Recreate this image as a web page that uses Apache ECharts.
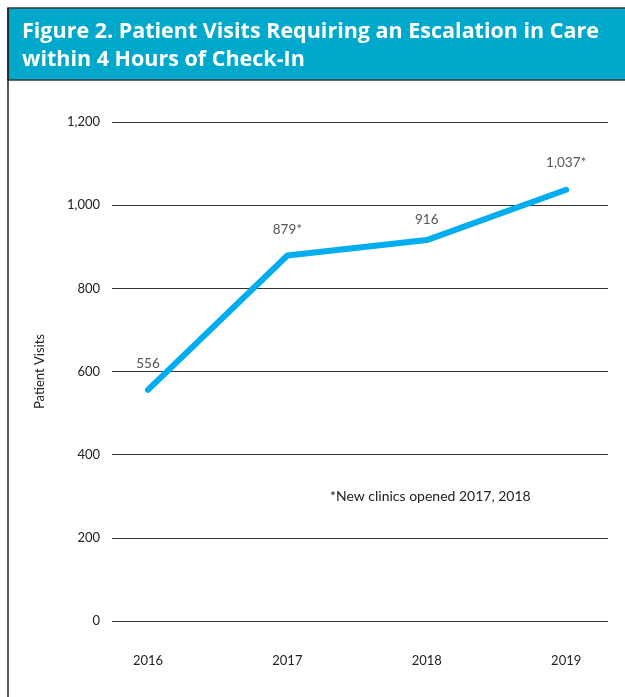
<!DOCTYPE html>
<html>
<head>
<meta charset="utf-8">
<script src="https://cdn.jsdelivr.net/npm/echarts@6/dist/echarts.min.js"></script>
<style>
  html, body { margin: 0; padding: 0; background: #fff; }
  #chart { width: 625px; height: 697px; }
</style>
</head>
<body>
<div id="chart"></div>
<script>
// Annual patient visits needing an escalation in care within 4 hours of check-in
const years = [2016, 2017, 2018, 2019];
const visits = [556, 879, 916, 1037];
const newClinicYear = [false, true, false, true];   // flagged with an asterisk
const yTicks = { min: 0, max: 1200, interval: 200 };

// gap between each point and its value label, in px
const labelGap = [17, 17, 11, 18];

const chart = echarts.init(document.getElementById('chart'));
const fontFamily = 'Lato, "Open Sans", sans-serif';

chart.setOption({
  backgroundColor: '#ffffff',
  animation: false,
  graphic: [
    // frame and header band
    { type: 'rect', shape: { x: 8, y: 8, width: 640, height: 72 }, style: { fill: '#00a9cc', stroke: '#2e3b3f', lineWidth: 1.5 }, z: 0 },
    { type: 'line', shape: { x1: 8, y1: 8, x2: 8, y2: 700 }, style: { stroke: '#222', lineWidth: 1.5 }, z: 1 },
    {
      type: 'text', left: 22, top: 18, z: 2,
      style: {
        text: 'Figure 2. Patient Visits Requiring an Escalation in Care\nwithin 4 Hours of Check-In',
        fill: '#ffffff', font: 'bold 21.5px "Open Sans", sans-serif', lineHeight: 28
      }
    },
    {
      type: 'text', left: 330, top: 489, z: 2,
      style: { text: '*New clinics opened 2017, 2018', fill: '#222', font: '14px ' + fontFamily }
    }
  ],
  grid: { left: 112, right: 17, top: 122, bottom: 76, containLabel: false },
  xAxis: {
    type: 'value',
    min: 2015.742,
    max: 2019.30,
    splitNumber: 4,
    axisLine: { show: false },
    axisTick: { show: false },
    splitLine: { show: false },
    axisLabel: {
      margin: 33,
      color: '#222',
      fontSize: 13,
      fontFamily: fontFamily,
      showMinLabel: false,
      showMaxLabel: false,
      formatter: v => (Number.isInteger(v) && years.includes(v)) ? String(v) : ''
    }
  },
  yAxis: {
    type: 'value',
    min: yTicks.min,
    max: yTicks.max,
    interval: yTicks.interval,
    name: 'Patient Visits',
    nameLocation: 'middle',
    nameGap: 66,
    nameTextStyle: { color: '#222', fontSize: 13, fontFamily: fontFamily },
    axisLine: { show: false },
    axisTick: { show: false },
    axisLabel: {
      margin: 12,
      color: '#222',
      fontSize: 13,
      fontFamily: fontFamily,
      formatter: v => v.toLocaleString('en-US')
    },
    splitLine: { lineStyle: { color: '#333', width: 1.2 } }
  },
  series: [{
    type: 'line',
    data: years.map((y, i) => ({ value: [y, visits[i]], label: { distance: labelGap[i] } })),
    showSymbol: true,
    symbol: 'circle',
    symbolSize: 4,
    itemStyle: { color: '#00aeef' },
    lineStyle: { color: '#00aeef', width: 6, cap: 'round', join: 'round' },
    label: {
      show: true,
      position: 'top',
      color: '#555',
      fontSize: 13.5,
      fontFamily: fontFamily,
      formatter: p => visits[p.dataIndex].toLocaleString('en-US') + (newClinicYear[p.dataIndex] ? '*' : '')
    }
  }]
});
</script>
</body>
</html>
